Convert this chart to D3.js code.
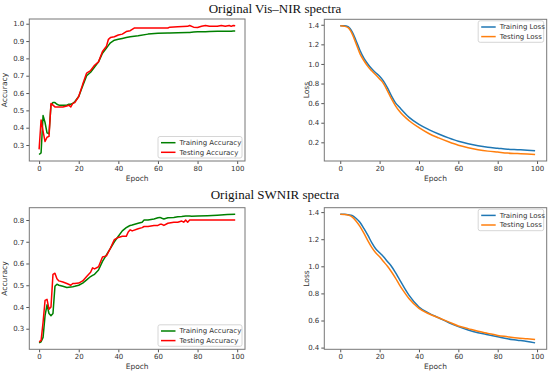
<!DOCTYPE html>
<html>
<head>
<meta charset="utf-8">
<script src="https://cdn.jsdelivr.net/npm/d3@7"></script>
<style>
  body { margin: 0; background: #fff; }
  svg { display: block; }
</style>
</head>
<body>
<svg id="chart" width="550" height="373"></svg>
<script>
// ---- data ----
const titles = ["Original Vis\u2013NIR spectra", "Original SWNIR spectra"];
const xTicks = [0, 20, 40, 60, 80, 100];

// Vis-NIR accuracy
const visAccEpochs = [0,1,2,3,4,5,6,7,8,9,10,12,14,15,16,17,18,20,22,24,26,28,30,32,34,35,36,38,40,42,44,46,48,50,55,60,65,66,70,75,76,78,80,82,84,86,90,92,94,96,97,98,99];
const visTrainAcc = [0.245,0.255,0.47,0.43,0.37,0.365,0.53,0.545,0.545,0.535,0.53,0.53,0.53,0.535,0.535,0.54,0.55,0.58,0.64,0.70,0.72,0.75,0.78,0.83,0.86,0.875,0.89,0.905,0.91,0.915,0.92,0.925,0.928,0.93,0.94,0.945,0.947,0.947,0.948,0.95,0.95,0.952,0.953,0.953,0.954,0.955,0.956,0.956,0.957,0.957,0.957,0.958,0.958];
const visTestAcc = [0.275,0.445,0.38,0.32,0.345,0.35,0.54,0.53,0.52,0.52,0.52,0.52,0.525,0.53,0.52,0.54,0.545,0.58,0.65,0.715,0.73,0.76,0.78,0.84,0.87,0.91,0.92,0.925,0.935,0.94,0.955,0.96,0.975,0.975,0.975,0.975,0.975,0.98,0.982,0.985,0.99,0.98,0.978,0.985,0.99,0.985,0.985,0.99,0.985,0.99,0.985,0.99,0.988];
const visAccYTicks = [0.3,0.4,0.5,0.6,0.7,0.8,0.9,1.0];

// Vis-NIR loss
const visLossEpochs = [0,2,4,6,8,10,12,14,16,18,20,22,24,26,28,30,35,40,45,50,55,60,65,70,75,80,85,90,95,99];
const visTrainLoss = [1.39,1.39,1.38,1.33,1.24,1.14,1.06,1.0,0.95,0.91,0.875,0.825,0.755,0.675,0.605,0.56,0.455,0.383,0.33,0.285,0.245,0.21,0.185,0.165,0.15,0.14,0.13,0.125,0.12,0.115];
const visTestLoss = [1.39,1.385,1.37,1.31,1.21,1.105,1.035,0.975,0.93,0.89,0.847,0.80,0.725,0.645,0.575,0.519,0.42,0.35,0.29,0.245,0.205,0.17,0.145,0.125,0.11,0.10,0.09,0.085,0.08,0.075];
const visLossYTicks = [0.2,0.4,0.6,0.8,1.0,1.2,1.4];

// SWNIR accuracy
const swAccEpochs = [0,1,2,3,4,5,6,7,8,9,10,12,14,16,17,18,20,22,24,26,27,28,30,32,34,36,38,40,42,44,45,46,47,50,52,53,55,58,60,61,62,63,65,68,70,72,73,74,75,76,77,80,85,90,95,99];
const swTrainAcc = [0.235,0.24,0.26,0.36,0.41,0.37,0.36,0.37,0.495,0.505,0.50,0.495,0.49,0.492,0.493,0.495,0.50,0.51,0.525,0.54,0.545,0.55,0.57,0.61,0.64,0.67,0.70,0.725,0.75,0.765,0.77,0.775,0.777,0.785,0.79,0.80,0.80,0.805,0.81,0.812,0.808,0.805,0.81,0.812,0.815,0.816,0.817,0.818,0.818,0.818,0.817,0.818,0.82,0.822,0.825,0.827];
const swTestAcc = [0.24,0.245,0.33,0.43,0.435,0.39,0.40,0.55,0.555,0.53,0.52,0.515,0.508,0.50,0.508,0.508,0.51,0.52,0.54,0.56,0.58,0.575,0.585,0.63,0.635,0.67,0.71,0.72,0.725,0.725,0.745,0.755,0.75,0.76,0.765,0.77,0.77,0.775,0.775,0.78,0.78,0.775,0.785,0.79,0.79,0.795,0.79,0.80,0.79,0.80,0.80,0.80,0.80,0.80,0.80,0.80];
const swAccYTicks = [0.3,0.4,0.5,0.6,0.7,0.8];

// SWNIR loss
const swLossEpochs = [0,2,4,6,8,10,12,14,16,18,20,22,24,26,28,30,32,35,40,45,50,55,60,65,70,75,80,85,90,95,99];
const swTrainLoss = [1.385,1.385,1.38,1.375,1.355,1.325,1.28,1.23,1.175,1.13,1.10,1.07,1.035,1.0,0.955,0.905,0.855,0.785,0.70,0.655,0.62,0.585,0.555,0.53,0.51,0.495,0.48,0.465,0.455,0.445,0.435];
const swTestLoss = [1.385,1.383,1.378,1.365,1.335,1.295,1.245,1.19,1.14,1.10,1.07,1.035,1.0,0.96,0.915,0.865,0.82,0.76,0.69,0.65,0.62,0.59,0.56,0.54,0.52,0.505,0.49,0.48,0.47,0.465,0.46];
const swLossYTicks = [0.4,0.6,0.8,1.0,1.2,1.4];

const accNames = ["Training Accuracy", "Testing Accuracy"];
const lossNames = ["Training Loss", "Testing Loss"];

// ---- drawing ----
const svg = d3.select("#chart");
const sans = "DejaVu Sans, sans-serif";

svg.append("text")
  .attr("x", 275).attr("y", 13)
  .attr("text-anchor", "middle")
  .attr("font-family", "Liberation Serif, serif")
  .attr("font-size", "13px")
  .attr("fill", "#111")
  .text(titles[0]);

svg.append("text")
  .attr("x", 275).attr("y", 198.5)
  .attr("text-anchor", "middle")
  .attr("font-family", "Liberation Serif, serif")
  .attr("font-size", "13px")
  .attr("fill", "#111")
  .text(titles[1]);

function drawPanel(p){
  const [x0, y0, x1, y1] = p.box;
  const g = svg.append("g");

  const x = d3.scaleLinear().domain(p.xDomain).range([x0, x1]);
  const all = p.series.flatMap(s => s.values);
  const lo = d3.min(all), hi = d3.max(all), pad = (hi - lo) * 0.05;
  const y = d3.scaleLinear().domain([lo - pad, hi + pad]).range([y1, y0]);

  const xAxis = g.append("g")
    .attr("transform", `translate(0,${y1})`)
    .call(d3.axisBottom(x).tickValues(xTicks).tickSize(3).tickPadding(2));
  const yAxis = g.append("g")
    .attr("transform", `translate(${x0},0)`)
    .call(d3.axisLeft(y).tickValues(p.yTicks).tickSize(3).tickPadding(2).tickFormat(d3.format(".1f")));
  [xAxis, yAxis].forEach(a => {
    a.select(".domain").remove();
    a.selectAll("line").attr("stroke", "#555");
    a.selectAll("text").attr("font-family", sans).attr("font-size", "7px").attr("fill", "#333");
  });

  const line = d3.line()
    .x((d, i) => x(p.epochs[i]))
    .y(d => y(d));
  if (p.smooth) line.curve(d3.curveMonotoneX);

  p.series.forEach(s => {
    g.append("path")
      .datum(s.values)
      .attr("fill", "none")
      .attr("stroke", s.color)
      .attr("stroke-width", 1.5)
      .attr("stroke-linejoin", "round")
      .attr("d", line);
  });

  g.append("rect")
    .attr("x", x0).attr("y", y0)
    .attr("width", x1 - x0).attr("height", y1 - y0)
    .attr("fill", "none").attr("stroke", "#777").attr("stroke-width", 1);

  g.append("text")
    .attr("x", (x0 + x1) / 2).attr("y", y1 + 20)
    .attr("text-anchor", "middle")
    .attr("font-family", sans).attr("font-size", "7.5px").attr("fill", "#333")
    .text("Epoch");

  g.append("text")
    .attr("transform", `translate(${x0 - p.ylabOff},${(y0 + y1) / 2}) rotate(-90)`)
    .attr("text-anchor", "middle")
    .attr("font-family", sans).attr("font-size", "7.5px").attr("fill", "#333")
    .text(p.ylabel);

  // legend
  const lw = p.legendW, lh = 21.5;
  const lx = x1 - 3 - lw;
  const ly = p.legendPos == "lower" ? y1 - 3 - lh : y0 + 1.5;
  const leg = g.append("g").attr("transform", `translate(${lx},${ly})`);
  leg.append("rect")
    .attr("width", lw).attr("height", lh).attr("rx", 2)
    .attr("fill", "#fff").attr("stroke", "#ccc").attr("stroke-width", 0.8);
  p.series.forEach((s, i) => {
    const yy = 6.2 + i * 9.6;
    leg.append("line")
      .attr("x1", 3).attr("x2", 17.5).attr("y1", yy).attr("y2", yy)
      .attr("stroke", s.color).attr("stroke-width", 1.5);
    leg.append("text")
      .attr("x", 21.5).attr("y", yy + 2.5)
      .attr("font-family", sans).attr("font-size", "7px").attr("fill", "#333")
      .text(s.name);
  });
}

const accXDomain = [-4.95, 103.95];
const lossXDomain = [-8.1, 104.9];

drawPanel({
  box: [29.3, 19, 245, 161], epochs: visAccEpochs, yTicks: visAccYTicks, xDomain: accXDomain,
  ylabel: "Accuracy", ylabOff: 22, legendPos: "lower", legendW: 84,
  series: [
    {name: accNames[0], values: visTrainAcc, color: "#008000"},
    {name: accNames[1], values: visTestAcc, color: "#ff0000"}
  ]
});
drawPanel({
  box: [324.3, 19.3, 546.7, 161], epochs: visLossEpochs, yTicks: visLossYTicks, xDomain: lossXDomain,
  ylabel: "Loss", ylabOff: 15, legendPos: "upper", legendW: 65.5, smooth: true,
  series: [
    {name: lossNames[0], values: visTrainLoss, color: "#1f77b4"},
    {name: lossNames[1], values: visTestLoss, color: "#ff7f0e"}
  ]
});
drawPanel({
  box: [29.3, 207.7, 245, 349.3], epochs: swAccEpochs, yTicks: swAccYTicks, xDomain: accXDomain,
  ylabel: "Accuracy", ylabOff: 22, legendPos: "lower", legendW: 84,
  series: [
    {name: accNames[0], values: swTrainAcc, color: "#008000"},
    {name: accNames[1], values: swTestAcc, color: "#ff0000"}
  ]
});
drawPanel({
  box: [324.3, 207.7, 546.7, 349.3], epochs: swLossEpochs, yTicks: swLossYTicks, xDomain: lossXDomain,
  ylabel: "Loss", ylabOff: 15, legendPos: "upper", legendW: 65.5, smooth: true,
  series: [
    {name: lossNames[0], values: swTrainLoss, color: "#1f77b4"},
    {name: lossNames[1], values: swTestLoss, color: "#ff7f0e"}
  ]
});
</script>
</body>
</html>
